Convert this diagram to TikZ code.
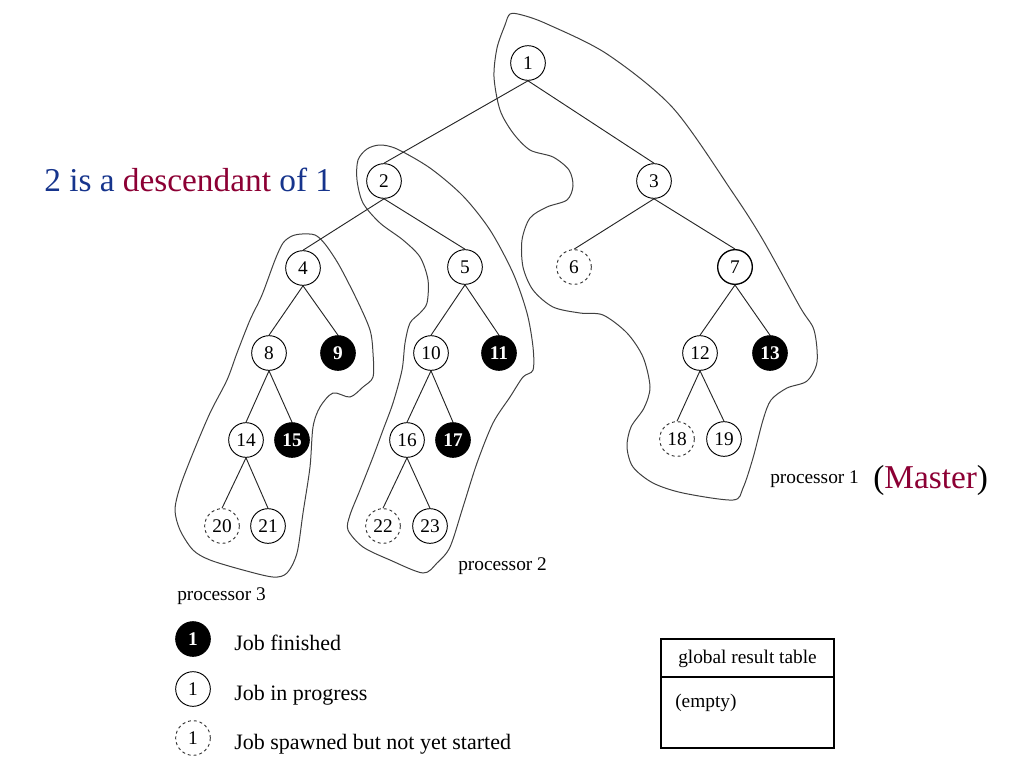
\documentclass[tikz,border=0pt]{standalone}
\usepackage{fontspec}
\setmainfont{Liberation Serif}
\definecolor{dblue}{RGB}{22,52,140}
\definecolor{dred}{RGB}{140,0,52}
\begin{document}
\begin{tikzpicture}[x=0.75pt,y=-0.75pt,
  job/.style={circle,draw,line width=0.7pt,inner sep=0pt,minimum size=26pt,font=\fontsize{14.5}{14.5}\selectfont},
  done/.style={job,fill=black,text=white,font=\fontsize{14.5}{14.5}\selectfont\bfseries},
  waiting/.style={job,draw=black!80,dash pattern=on 2.2pt off 2.2pt},
  link/.style={line width=0.7pt,draw=black!85},
  blob/.style={line width=0.75pt,draw=black!75},
  small/.style={font=\fontsize{14.5}{14.5}\selectfont},
  legend/.style={font=\fontsize{16.5}{16.5}\selectfont},
  big/.style={font=\fontsize{25}{25}\selectfont}]
\useasboundingbox (0,0) rectangle (1024,768);

% processor blobs
\draw[blob] plot[smooth cycle,tension=0.5] coordinates {
 (510,14) (522,15) (547,24) (607,54) (673,108) (733,193) (763,240) (800,307)
 (814,330) (817,362) (807,381) (787,388) (771,400) (763,420) (753,458) (743,488)
 (733,500) (683,493) (653,483) (633,467) (627,447) (631,427) (644,408) (650,387)
 (643,357) (627,333) (603,315) (580,313) (553,307) (533,290) (523,267) (522,240)
 (530,218) (547,207) (567,200) (573,186) (569,170) (553,157) (530,150) (513,133)
 (500,110) (494,77) (497,48) (505,25)};
\draw[blob] plot[smooth cycle,tension=0.5] coordinates {
 (380,145) (397,149) (430,168) (463,196) (490,230) (513,273) (527,313) (533,347)
 (533,370) (523,377) (510,397) (493,423) (477,463) (463,507) (450,547) (437,563)
 (423,573) (390,560) (363,547) (348,530) (350,515) (360,490) (373,457) (383,430)
 (393,403) (402,370) (405,343) (410,323) (420,313) (427,303) (428,280) (420,257)
 (403,240) (380,223) (363,203) (357,180) (358,160) (367,149)};
\draw[blob] plot[smooth cycle,tension=0.5] coordinates {
 (302,234) (315,235) (325,244) (339,265) (357,300) (370,330) (373,353) (373,377)
 (363,387) (350,397) (333,393) (320,407) (313,427) (310,467) (303,513) (297,553)
 (287,573) (273,577) (243,570) (210,560) (193,550) (180,530) (175,510) (180,487)
 (193,453) (210,413) (227,380) (237,353) (250,320) (262,295) (275,260) (283,243)
 (292,236)};

% jobs
\node[job] (n1) at (528,63) {1};
\node[job] (n2) at (384,181) {2};
\node[job] (n3) at (654,181) {3};
\node[job] (n4) at (303,268) {4};
\node[job] (n5) at (465,267) {5};
\node[waiting] (n6) at (574,267) {6};
\node[job,line width=1pt] (n7) at (735,267) {7};
\node[job] (n8) at (269,353) {8};
\node[done] (n9) at (338,353) {9};
\node[job] (n10) at (431,353) {10};
\node[done] (n11) at (499,353) {11};
\node[job] (n12) at (700,353) {12};
\node[done] (n13) at (770,353) {13};
\node[job] (n14) at (246,440) {14};
\node[done] (n15) at (292,440) {15};
\node[job] (n16) at (407,440) {16};
\node[done] (n17) at (453,440) {17};
\node[waiting] (n18) at (677,439) {18};
\node[job] (n19) at (724,439) {19};
\node[waiting] (n20) at (222,526) {20};
\node[job] (n21) at (268,526) {21};
\node[waiting] (n22) at (383,526) {22};
\node[job] (n23) at (430,526) {23};

% tree edges
\foreach \p/\c in {n1/n2,n1/n3,n2/n4,n2/n5,n3/n6,n3/n7,n4/n8,n4/n9,n5/n10,n5/n11,
  n7/n12,n7/n13,n8/n14,n8/n15,n10/n16,n10/n17,n12/n18,n12/n19,n14/n20,n14/n21,n16/n22,n16/n23}
  \draw[link] (\p.south) -- (\c.north);

% labels
\node[big,anchor=base west,inner sep=0pt] (desc) at (44,191)
  {\textcolor{dblue}{2 is a} \textcolor{dred}{descendant} \textcolor{dblue}{of 1}};
\node[small,anchor=base west,inner sep=0pt] (p1) at (770,483) {processor 1};
\node[big,anchor=base west,inner sep=0pt] (master) at (873,488) {(\textcolor{dred}{Master})};
\node[small,anchor=base west,inner sep=0pt] (p2) at (458,570) {processor 2};
\node[small,anchor=base west,inner sep=0pt] (p3) at (177,600) {processor 3};

% legend
\node[done] (l1) at (193,639) {1};
\node[job] (l2) at (193,689) {1};
\node[waiting] (l3) at (193,738) {1};
\node[legend,anchor=base west,inner sep=0pt] (t1) at (234,650) {Job finished};
\node[legend,anchor=base west,inner sep=0pt] (t2) at (234,700) {Job in progress};
\node[legend,anchor=base west,inner sep=0pt] (t3) at (234,749) {Job spawned but not yet started};

% global result table
\draw[line width=0.8pt] (661,639) rectangle (834,748);
\draw[line width=0.8pt] (661,677) -- (834,677);
\node[small,anchor=base,inner sep=0pt] (gt) at (747.5,663) {global result table};
\node[small,anchor=base west,inner sep=0pt] (empty) at (675,707) {(empty)};
\end{tikzpicture}
\end{document}
